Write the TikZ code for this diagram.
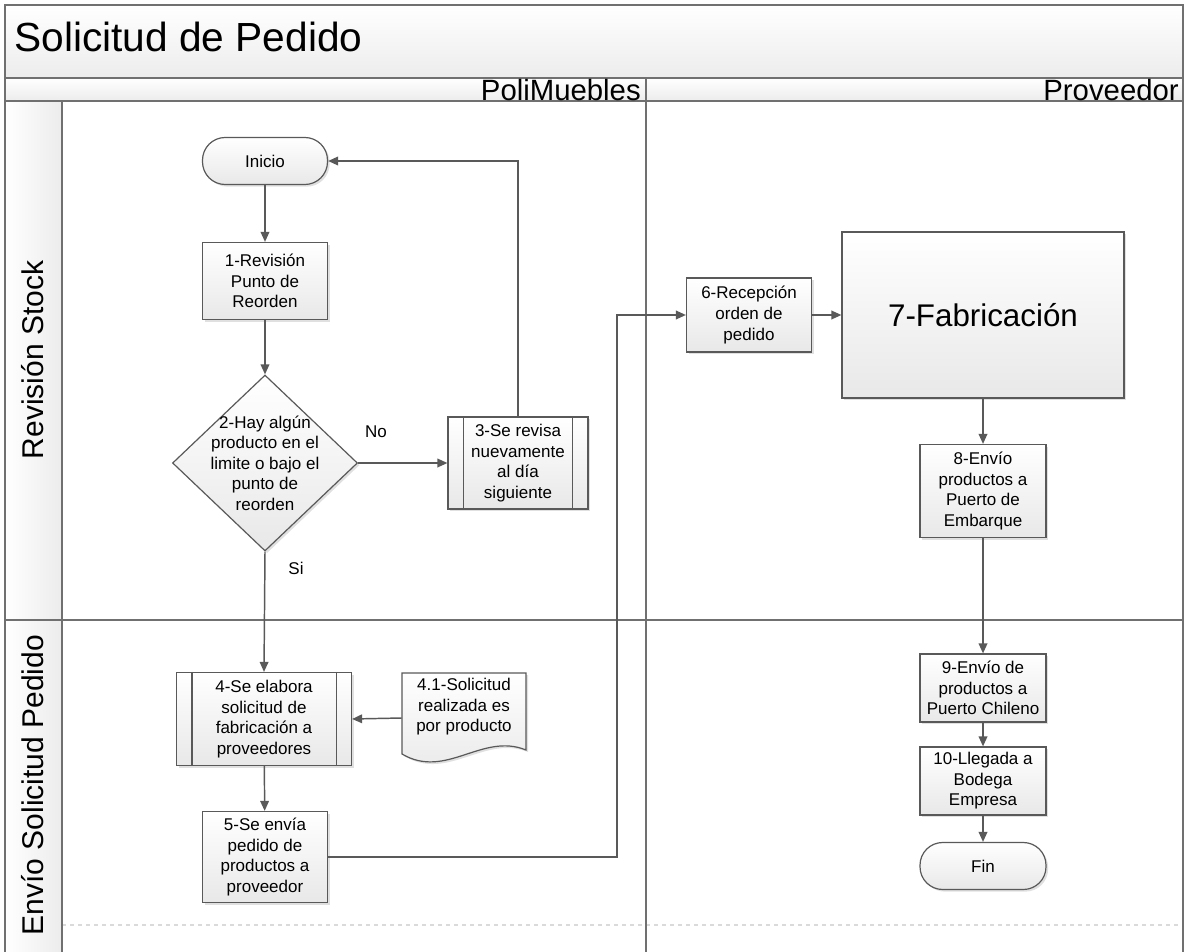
\documentclass[tikz,border=0pt]{standalone}
\usepackage{fontspec}
\setmainfont{Liberation Sans}
\usetikzlibrary{arrows.meta,shapes.geometric,shadows,calc}

\definecolor{edgegray}{HTML}{595959}
\definecolor{framegray}{HTML}{707070}
\definecolor{bandgray}{HTML}{ECECEC}
\definecolor{boxgray}{HTML}{E8E8E8}
\definecolor{dashgray}{HTML}{DADADA}

\newcommand{\flowfont}{\fontsize{12.75}{15.4}\selectfont}
\newcommand{\bigflowfont}{\fontsize{23.5}{28}\selectfont}
\newcommand{\titlefont}{\fontsize{30.5}{36}\selectfont}
\newcommand{\headfont}{\fontsize{22}{26}\selectfont}
\newcommand{\lanefont}{\fontsize{22.5}{27}\selectfont}

\begin{document}
\begin{tikzpicture}[x=0.75pt,y=-0.75pt,
  sz/.style 2 args={minimum width=#1*0.75pt,minimum height=#2*0.75pt},
  lanefr/.style={draw=framegray,line width=1pt},
  shade/.style={top color=white,middle color=white,bottom color=boxgray},
  shadowed/.style={drop shadow={shadow xshift=1.6pt,shadow yshift=-1.6pt,fill=black,opacity=0.12}},
  box/.style={rectangle,draw=edgegray,line width=0.9pt,shade,shadowed,
    font=\flowfont,align=center,inner sep=0pt},
  term/.style={box,rounded corners=17pt},
  decision/.style={diamond,draw=edgegray,line width=0.9pt,shade,shadowed,inner sep=0pt},
  plaintext/.style={font=\flowfont,align=center,inner sep=0pt},
  conn/.style={draw=edgegray,line width=1.1pt,-{Triangle[length=7.5pt,width=6.5pt]}},
  subline/.style={draw=edgegray,line width=0.9pt}
]
\useasboundingbox (0,0) rectangle (1185,952);

% ---- pool background and lanes ----
\path[top color=white,bottom color=bandgray] (5,5) rectangle (1183,78);
\path[top color=white,bottom color=bandgray] (5,78) rectangle (1183,101);
\path[left color=white,right color=bandgray] (5,101) rectangle (62,952);
\draw[dashgray,dashed,line width=0.8pt] (62,925) -- (1183,925);
\draw[lanefr] (5,952) -- (5,5) -- (1183,5) -- (1183,952);
\draw[lanefr] (5,78) -- (1183,78);
\draw[lanefr] (5,101) -- (1183,101);
\draw[lanefr] (62,101) -- (62,952);
\draw[lanefr] (646,78) -- (646,952);
\draw[lanefr] (5,620) -- (1183,620);

\node[anchor=west,font=\titlefont,inner sep=0pt] (title) at (14,37) {Solicitud de Pedido};
\node[anchor=east,font=\headfont,inner sep=0pt] (colA) at (641,90) {PoliMuebles};
\node[anchor=east,font=\headfont,inner sep=0pt] (colB) at (1179,90) {Proveedor};
\node[rotate=90,font=\lanefont,inner sep=0pt] (laneA) at (33,360) {Revisión Stock};
\node[rotate=90,font=\lanefont,inner sep=0pt] (laneB) at (33,785) {Envío Solicitud Pedido};

% ---- PoliMuebles ----
\node[term,sz={125}{47}] (inicio) at (265,161) {Inicio};
\node[box,sz={125}{77}] (n1) at (265,281) {1-Revisión\\Punto de\\Reorden};
\node[decision,sz={185}{176}] (d2) at (265,463) {};
\node[plaintext] (d2t) at (265,463) {2-Hay algún\\producto en el\\limite o bajo el\\punto de\\reorden};
\node[box,sz={140}{92}] (n3) at (518,463) {3-Se revisa\\nuevamente\\al día\\siguiente};
\draw[subline] ($(n3.north west)+(16,0)$) -- ($(n3.south west)+(16,0)$);
\draw[subline] ($(n3.north east)+(-16,0)$) -- ($(n3.south east)+(-16,0)$);

\node[box,sz={175}{93}] (n4) at (264,719) {4-Se elabora\\solicitud de\\fabricación a\\proveedores};
\draw[subline] ($(n4.north west)+(16,0)$) -- ($(n4.south west)+(16,0)$);
\draw[subline] ($(n4.north east)+(-16,0)$) -- ($(n4.south east)+(-16,0)$);

% document shape with a wavy lower edge
\path[draw=edgegray,line width=0.9pt,shade,shadowed]
  (402,673) -- (526,673) -- (526,750)
  .. controls (482,732) and (446,780) .. (402,754) -- cycle;
\node[inner sep=0pt,sz={124}{90}] (n41) at (464,718) {};
\node[plaintext] (n41t) at (464,707) {4.1-Solicitud\\realizada es\\por producto};

\node[box,sz={125}{91}] (n5) at (265,857) {5-Se envía\\pedido de\\productos a\\proveedor};

% ---- Proveedor ----
\node[box,sz={125}{74}] (n6) at (749,315) {6-Recepción\\orden de\\pedido};
\node[box,sz={282}{166},font=\bigflowfont] (n7) at (983,315) {7-Fabricación};
\node[box,sz={126}{93}] (n8) at (983,491) {8-Envío\\productos a\\Puerto de\\Embarque};
\node[box,sz={126}{68}] (n9) at (983,688) {9-Envío de\\productos a\\Puerto Chileno};
\node[box,sz={126}{68}] (n10) at (983,781) {10-Llegada a\\Bodega\\Empresa};
\node[term,sz={126}{47}] (fin) at (983,866) {Fin};

% ---- connectors ----
\draw[conn] (inicio) -- (n1);
\draw[conn] (n1) -- (d2);
\draw[conn] (d2.east) -- (n3.west);
\node[plaintext] (lblNo) at (376,432) {No};
\draw[conn] (n3.north) |- (inicio.east);
\draw[conn] (d2.south) -- (n4.north);
\node[plaintext] (lblSi) at (296,568) {Si};
\draw[conn] (n41.west) -- (n4.east);
\draw[conn] (n4) -- (n5);
\coordinate (bend) at (617,857);
\draw[conn] (n5.east) -- (bend) |- (n6.west);
\draw[conn] (n6) -- (n7);
\draw[conn] (n7) -- (n8);
\draw[conn] (n8) -- (n9);
\draw[conn] (n9) -- (n10);
\draw[conn] (n10) -- (fin);
\end{tikzpicture}
\end{document}
